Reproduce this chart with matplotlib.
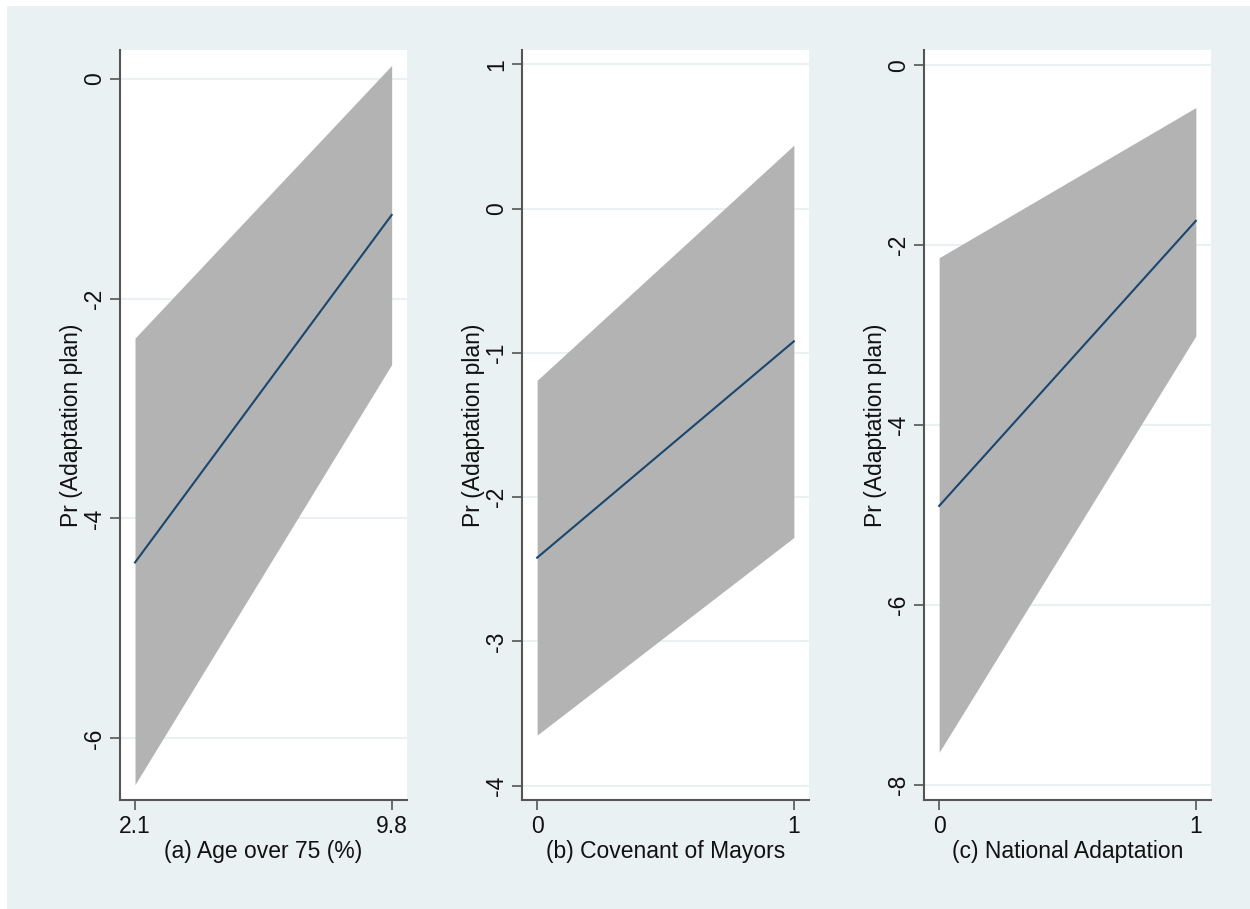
import matplotlib
matplotlib.use("Agg")
import matplotlib.pyplot as plt
from matplotlib.patches import Rectangle

plt.rcParams['font.family'] = ['Liberation Sans', 'DejaVu Sans']

# Data
x_a = [2.1, 9.8]
mean_a = [-4.40, -1.24]
lo_a = [-6.42, -2.60]
hi_a = [-2.36, 0.12]

x_b = [0, 1]
mean_b = [-2.42, -0.92]
lo_b = [-3.65, -2.28]
hi_b = [-1.19, 0.44]

x_c = [0, 1]
mean_c = [-4.90, -1.73]
lo_c = [-7.64, -3.01]
hi_c = [-2.14, -0.47]

xlabels = ["(a) Age over 75 (%)", "(b) Covenant of Mayors", "(c) National Adaptation"]
ylabel = "Pr (Adaptation plan)"
yticks_a = [0, -2, -4, -6]
yticks_b = [1, 0, -1, -2, -3, -4]
yticks_c = [0, -2, -4, -6, -8]
xticklabels_a = ["2.1", "9.8"]
xticklabels_b = ["0", "1"]
xticklabels_c = ["0", "1"]

BG = "#EAF1F3"
BAND = "#B3B3B3"
LINE = "#1A476F"
SPINE = "#555555"
FS = 16.5

fig = plt.figure(figsize=(12.5, 9.09), dpi=100)
fig.patch.set_facecolor("white")
fig.patches.append(Rectangle((7/1250, 0), 1 - 7/1250, 1 - 6/909,
                             transform=fig.transFigure, facecolor=BG,
                             edgecolor="none", zorder=-10))

bottom = (909 - 800) / 909
height = 750 / 909
width = 287 / 1250
lefts = [120 / 1250, 522 / 1250, 924 / 1250]

panels = [
    (x_a, mean_a, lo_a, hi_a, yticks_a, xticklabels_a, (1.65, 10.26), (-6.56, 0.26)),
    (x_b, mean_b, lo_b, hi_b, yticks_b, xticklabels_b, (-0.059, 1.059), (-4.10, 1.10)),
    (x_c, mean_c, lo_c, hi_c, yticks_c, xticklabels_c, (-0.059, 1.059), (-8.17, 0.17)),
]

for i, (xs, m, lo, hi, yt, xtl, xl, yl) in enumerate(panels):
    ax = fig.add_axes([lefts[i], bottom, width, height])
    ax.set_facecolor("white")
    ax.fill_between(xs, lo, hi, color=BAND, linewidth=0, zorder=2)
    ax.plot(xs, m, color=LINE, linewidth=1.5, zorder=3)
    ax.set_xlim(*xl)
    ax.set_ylim(*yl)
    ax.set_yticks(yt)
    ax.set_yticklabels([str(v) for v in yt], rotation=90, va="center")
    ax.set_xticks(xs)
    ax.set_xticklabels(xtl)
    for y in yt:
        ax.axhline(y, color=BG, linewidth=1.5, zorder=1)
    for s in ["top", "right"]:
        ax.spines[s].set_visible(False)
    for s in ["left", "bottom"]:
        ax.spines[s].set_color(SPINE)
        ax.spines[s].set_linewidth(1.5)
    ax.tick_params(axis="both", length=7, width=1.2, color=SPINE,
                   labelsize=FS, labelcolor="#111111", pad=4)
    ax.tick_params(axis="y", pad=3)
    ax.set_xlabel(xlabels[i], fontsize=FS, color="#111111", labelpad=1)
    ax.set_ylabel(ylabel, fontsize=FS, color="#111111", labelpad=0)

fig.savefig("out.png", dpi=100, facecolor=fig.get_facecolor())
